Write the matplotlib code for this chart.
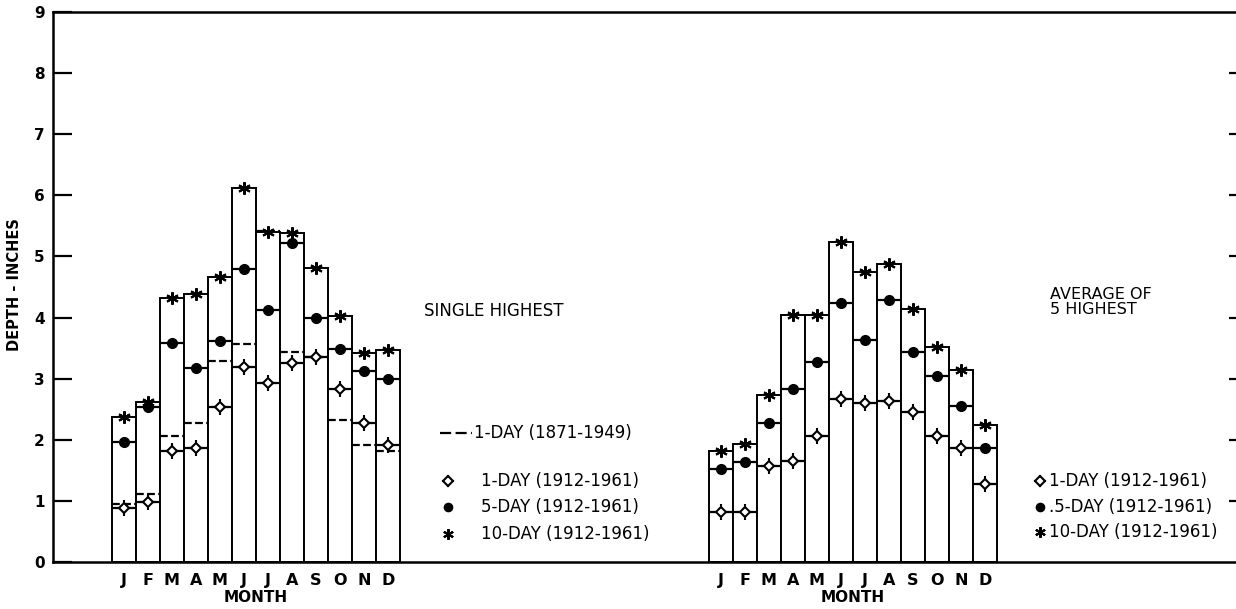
import numpy as np
import matplotlib
matplotlib.use("Agg")
import matplotlib.pyplot as plt

# Monatsbuchstaben
months = ["J", "F", "M", "A", "M", "J", "J", "A", "S", "O", "N", "D"]

# Single highest (Zoll)
single_1day_old = [0.95, 1.11, 2.07, 2.27, 3.29, 3.57, 5.42, 3.43, 3.36, 2.33, 1.91, 1.82]
single_1day = [0.88, 0.99, 1.82, 1.86, 2.53, 3.19, 2.93, 3.25, 3.36, 2.83, 2.28, 1.91]
single_5day = [1.96, 2.53, 3.59, 3.18, 3.62, 4.79, 4.12, 5.22, 3.99, 3.49, 3.13, 2.99]
single_10day = [2.37, 2.62, 4.32, 4.38, 4.66, 6.12, 5.40, 5.39, 4.81, 4.03, 3.42, 3.47]

# Average of 5 highest (Zoll)
avg_1day = [0.82, 0.82, 1.57, 1.65, 2.07, 2.67, 2.60, 2.64, 2.45, 2.07, 1.87, 1.27]
avg_5day = [1.52, 1.64, 2.28, 2.83, 3.27, 4.24, 3.63, 4.29, 3.43, 3.04, 2.55, 1.87]
avg_10day = [1.82, 1.93, 2.73, 4.04, 4.04, 5.24, 4.74, 4.88, 4.14, 3.52, 3.14, 2.24]

W, H = 1236, 609
fig = plt.figure(figsize=(W / 100, H / 100), dpi=100)
ax = fig.add_axes([53 / W, 47 / H, 1 - 53 / W, 550 / H])

left_x = 2.958 + np.arange(12)
right_x = 27.83 + np.arange(12)

lw = 1.4
dia = dict(marker="D", ms=5.5, mfc="white", mec="black", mew=1.5, ls="none", zorder=5)
plus = dict(marker="+", ms=11, mew=1.5, color="black", ls="none", zorder=4)
dot = dict(marker="o", ms=7, color="black", ls="none", zorder=5)
star = dict(marker=(6, 2, 0), ms=9, mew=1.5, color="black", ls="none", zorder=5)


def draw_group(x, v1, v5, v10, v_old=None):
    ax.bar(x, v10, width=1.0, color="white", edgecolor="black", linewidth=lw, zorder=2)
    if v_old is not None:
        ax.hlines(v_old, x - 0.5, x + 0.5, colors="black", linestyles=(0, (3.5, 1.5)), lw=1.6, zorder=3)
    ax.hlines(v1, x - 0.5, x + 0.5, colors="black", lw=1.6, zorder=3)
    ax.hlines(v5, x - 0.5, x + 0.5, colors="black", lw=1.6, zorder=3)
    ax.plot(x, v1, **plus)
    ax.plot(x, v1, **dia)
    ax.plot(x, v5, **dot)
    ax.plot(x, v10, **star)


draw_group(left_x, single_1day, single_5day, single_10day, single_1day_old)
draw_group(right_x, avg_1day, avg_5day, avg_10day)

ax.set_xlim(0, (W - 53) / 24)
ax.set_ylim(0, 9)
ax.set_yticks(range(10))
ax.set_yticklabels([str(i) for i in range(10)], fontsize=11, fontweight="bold")
ax.tick_params(axis="y", direction="in", length=14, width=1.6, pad=6)
ax.set_xticks(np.concatenate([left_x, right_x]))
ax.set_xticklabels(months * 2, fontsize=11.5, fontweight="bold")
ax.tick_params(axis="x", length=0, pad=8)
for s in ["left", "bottom", "top"]:
    ax.spines[s].set_linewidth(1.8)
ax.spines["right"].set_visible(False)

# kurze Striche rechts
ax2 = ax.twinx()
ax2.set_ylim(0, 9)
ax2.set_yticks(range(1, 9))
ax2.set_yticklabels([])
ax2.tick_params(axis="y", direction="in", length=5, width=1.6)
for s in ax2.spines.values():
    s.set_visible(False)

# MONTH
for gx in [left_x, right_x]:
    ax.text(gx.mean(), -35 / 550, "MONTH", transform=ax.get_xaxis_transform(),
            ha="center", va="center", fontsize=11, fontweight="bold")

fig.text(15 / W, 1 - 285 / H, "DEPTH - INCHES", rotation=90, ha="center", va="center",
         fontsize=10.5, fontweight="bold")


def fx(px):
    return px / W


def fy(py):
    return 1 - py / H


fig.text(fx(424), fy(311), "SINGLE HIGHEST", fontsize=12, va="center")
fig.text(fx(1050), fy(302), "AVERAGE OF\n5 HIGHEST", fontsize=11.5, va="center", linespacing=0.95)

# Legende links
fig.add_artist(plt.Line2D([fx(440), fx(472)], [fy(433), fy(433)], color="black", lw=1.6,
                          ls=(0, (5, 2))))
fig.text(fx(474), fy(433), "1-DAY (1871-1949)", fontsize=12, va="center")
keys = [(plus, dia), (dot,), (star,)]
labels_left = ["1-DAY (1912-1961)", "5-DAY (1912-1961)", "10-DAY (1912-1961)"]
for k, lab, py in zip(keys, labels_left, [481, 507, 534]):
    for st in k:
        fig.add_artist(plt.Line2D([fx(448)], [fy(py)], **{**st, "ms": st["ms"] * 0.85}))
    fig.text(fx(481), fy(py), lab, fontsize=12, va="center")

# Legende rechts
labels_right = ["1-DAY (1912-1961)", ".5-DAY (1912-1961)", "10-DAY (1912-1961)"]
for k, lab, py in zip(keys, labels_right, [481, 507, 532]):
    for st in k:
        fig.add_artist(plt.Line2D([fx(1040)], [fy(py)], **{**st, "ms": st["ms"] * 0.85}))
    fig.text(fx(1049), fy(py), lab, fontsize=12, va="center")

fig.savefig("out.png", dpi=100)
